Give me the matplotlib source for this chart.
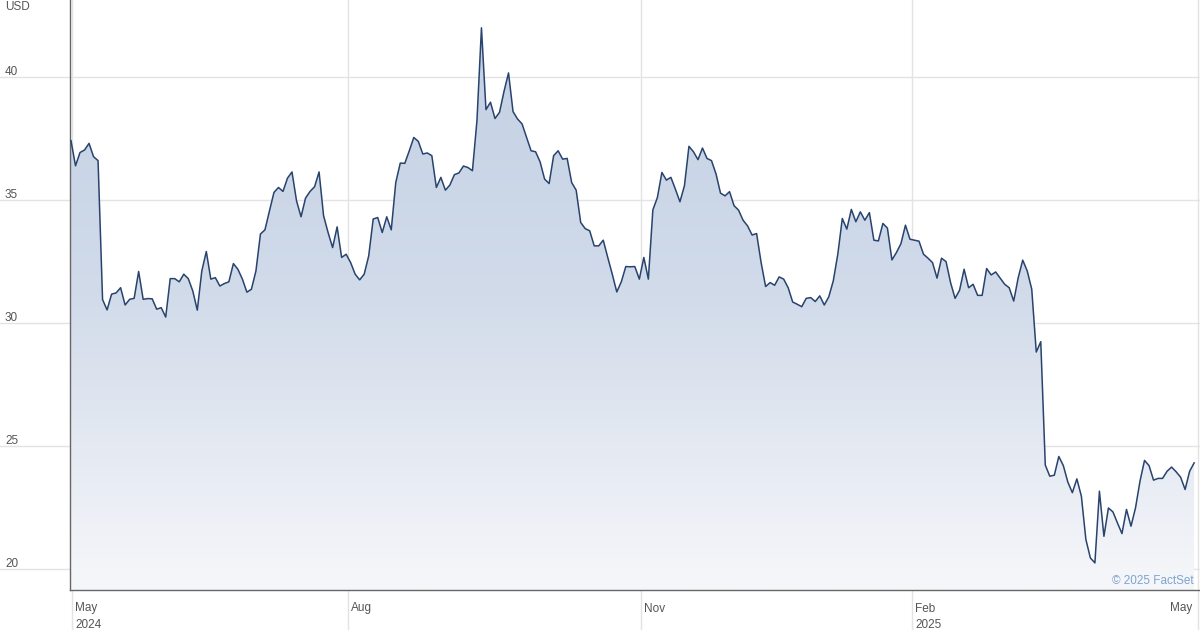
import numpy as np
import matplotlib
matplotlib.use("Agg")
import matplotlib.pyplot as plt
from matplotlib.colors import LinearSegmentedColormap
from matplotlib.transforms import blended_transform_factory, ScaledTranslation
from matplotlib.patches import Polygon

plt.rcParams['font.family'] = ['Liberation Sans', 'DejaVu Sans']

# Daily closing prices (USD), one per trading day, May 2024 - May 2025
prices = [
    37.40, 36.38, 36.92, 37.02, 37.29, 36.75, 36.59, 30.95, 30.53, 31.17, 31.22, 31.43, 30.73, 30.96,
    31.00, 32.09, 30.96, 30.99, 30.98, 30.56, 30.62, 30.24, 31.80, 31.80, 31.67, 31.98, 31.80, 31.30,
    30.52, 32.11, 32.90, 31.78, 31.84, 31.50, 31.60, 31.67, 32.41, 32.18, 31.78, 31.25, 31.37,
    32.11, 33.61, 33.78, 34.55, 35.30, 35.50, 35.34, 35.88, 36.13, 34.96, 34.31, 35.07, 35.34, 35.53,
    36.13, 34.35, 33.67, 33.06, 33.90, 32.66, 32.79, 32.45, 31.98, 31.75, 31.98, 32.72, 34.22, 34.28,
    33.67, 34.31, 33.78, 35.70, 36.49, 36.48, 36.99, 37.53, 37.37, 36.86, 36.90, 36.79, 35.50, 35.91,
    35.39,
    35.60, 36.02, 36.09, 36.37, 36.31, 36.18, 38.21, 41.98, 38.66, 38.96, 38.30, 38.55, 39.40, 40.15,
    38.58, 38.28, 38.08, 37.53, 36.99, 36.95, 36.54, 35.84, 35.66, 36.79, 36.99, 36.65, 36.68, 35.70,
    35.39, 34.08, 33.83, 33.74, 33.13, 33.13, 33.36, 32.66, 31.98, 31.26, 31.67, 32.29, 32.28, 32.29,
    31.78, 32.66, 31.78, 34.59, 35.09, 36.11, 35.80, 35.91, 35.43, 34.92, 35.57, 37.17, 36.95, 36.63,
    37.10, 36.68, 36.59, 36.05, 35.27, 35.16, 35.33, 34.76, 34.58, 34.17, 33.94, 33.57, 33.63, 32.45,
    31.48, 31.64, 31.53, 31.87, 31.78, 31.43, 30.85, 30.76, 30.66, 31.00, 31.03, 30.87, 31.10, 30.73,
    31.06,
    31.71, 32.79, 34.24, 33.81, 34.61, 34.11, 34.51, 34.17, 34.48, 33.36, 33.33, 34.04, 33.85, 32.56,
    32.86, 33.22, 33.97, 33.40, 33.36, 33.32, 32.79, 32.63, 32.45, 31.82, 32.63, 32.49, 31.64, 31.00,
    31.33, 32.18, 31.43, 31.57, 31.12, 31.12, 32.21, 31.95, 32.07, 31.82, 31.57, 31.43, 30.89, 31.84,
    32.55, 32.11, 31.37, 28.82, 29.24,
    24.23, 23.78, 23.82, 24.58, 24.21, 23.54, 23.11, 23.67, 22.97, 21.21, 20.46, 20.26, 23.17, 21.34,
    22.49, 22.33, 21.88, 21.45, 22.43, 21.75, 22.49, 23.58, 24.42, 24.21, 23.62, 23.69, 23.69, 23.98,
    24.15, 23.96, 23.74, 23.24, 23.98, 24.32,
]

# Month ticks (position in trading-day index) and labels
tick_pos = [0.22, 61.4, 126.4, 186.5, 249.9]
tick_month = ["May", "Aug", "Nov", "Feb", "May"]
tick_year = ["2024", "", "", "2025", ""]

y_ticks = [20, 25, 30, 35, 40]

W, H = 1200, 630
fig = plt.figure(figsize=(W / 100, H / 100), dpi=100)
ax = fig.add_axes([70 / W, 40 / H, 1130 / W, 590 / H])

x = np.arange(len(prices))
y = np.array(prices)

ax.set_xlim(-0.22, 250.3)
ax.set_ylim(19.16, 43.11)

# gradient fill under the line
cmap = LinearSegmentedColormap.from_list(
    "fs", [(0.0, "#f6f7fa"), (0.25, "#e4e9f2"), (0.5, "#d1dbea"), (1.0, "#c2cee3")])
grad = np.linspace(0, 1, 256).reshape(-1, 1)
im = ax.imshow(grad, cmap=cmap, aspect='auto', origin='lower',
               extent=[-0.22, 250.3, 19.16, 43.11], zorder=1)
poly_xy = np.vstack([np.column_stack([x, y]), [[x[-1], 19.16], [x[0], 19.16]]])
poly = Polygon(poly_xy, closed=True, facecolor='none', edgecolor='none', transform=ax.transData)
ax.add_patch(poly)
im.set_clip_path(poly)

ax.plot(x, y, color="#28436d", lw=1.1, zorder=3)

grid_c = "#e3e3e3"
lab_c = "#555555"
fs = 8.5
# horizontal gridlines spanning the whole figure width
tr_h = blended_transform_factory(fig.transFigure, ax.transData)
for v in y_ticks:
    ax.plot([0, 1], [v, v], transform=tr_h, color=grid_c, lw=1.0, clip_on=False, zorder=0.5)
    ax.text(5 / W, v, str(v), transform=tr_h + ScaledTranslation(0, 2 / 100, fig.dpi_scale_trans),
            ha='left', va='baseline', fontsize=fs, color=lab_c)

# vertical gridlines spanning the whole figure height
tr_v = blended_transform_factory(ax.transData, fig.transFigure)
for i, (p, m, yr) in enumerate(zip(tick_pos, tick_month, tick_year)):
    ax.plot([p, p], [0, 1], transform=tr_v, color=grid_c, lw=1.0, clip_on=False, zorder=0.5)
    if i == len(tick_pos) - 1:
        ax.text(p, 1 - 611.5 / H, m, transform=tr_v + ScaledTranslation(-6 / 100, 0, fig.dpi_scale_trans),
                ha='right', va='baseline', fontsize=fs, color=lab_c)
    else:
        ax.text(p, 1 - 611.5 / H, m, transform=tr_v + ScaledTranslation(3 / 100, 0, fig.dpi_scale_trans),
                ha='left', va='baseline', fontsize=fs, color=lab_c)
    if yr:
        ax.text(p, 1 - 628.5 / H, yr, transform=tr_v + ScaledTranslation(3 / 100, 0, fig.dpi_scale_trans),
                ha='left', va='baseline', fontsize=fs, color=lab_c)

for s in ['top', 'right']:
    ax.spines[s].set_visible(False)
ax.spines['left'].set_color("#666666")
ax.spines['bottom'].set_color("#666666")
ax.spines['left'].set_linewidth(1.0)
ax.spines['bottom'].set_linewidth(1.0)
ax.set_xticks([])
ax.set_yticks([])
ax.patch.set_alpha(0)

fig.text(5 / W, 1 - 10.5 / H, "USD", ha='left', va='baseline', fontsize=fs, color=lab_c)
fig.text(1194 / W, 1 - 583.5 / H, "\u00a9 2025 FactSet", ha='right', va='baseline',
         fontsize=fs, color="#7fa3cf")

fig.savefig("out.png", dpi=100)
